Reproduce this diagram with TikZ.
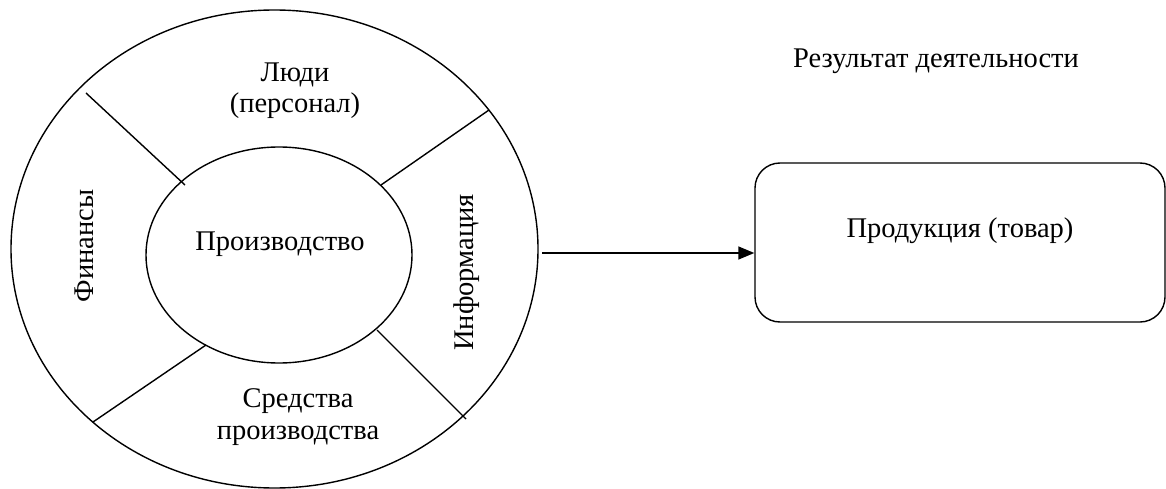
\documentclass[tikz,border=0pt]{standalone}
\usepackage{fontspec}
\setmainfont{Liberation Serif}
\usetikzlibrary{shapes.geometric,arrows.meta}
\begin{document}
\begin{tikzpicture}[x=1pt,y=-1pt,line width=1.4pt,
  lbl/.style={font=\fontsize{28.5}{31.5}\selectfont,align=center,inner sep=0pt,anchor=base},
  ring/.style={draw,ellipse,inner sep=0pt}]
\useasboundingbox (0,0) rectangle (1166,489);
% outer ring and inner core
\node[ring,minimum width=527pt,minimum height=478pt] (outer) at (274.5,249) {};
\node[ring,minimum width=266pt,minimum height=216pt] (inner) at (279,255) {};
% dividing spokes
\draw (86,93) -- (185,185);
\draw (489,110) -- (381,185);
\draw (93,422) -- (206,345);
\draw (377,330) -- (466,419);
% sector labels (two-line labels sit on the baseline of their last line)
\node[lbl] (core) at (280,250) {Производство};
\node[lbl] (people) at (295,113) {Люди\\(персонал)};
\node[lbl] (means) at (298,439) {Средства\\производства};
\node[lbl,rotate=90] (fin) at (93.5,246) {Финансы};
\node[lbl,rotate=90] (info) at (473,272.5) {Информация};
% result
\node[lbl] (res) at (936,68) {Результат деятельности};
\node[draw,rounded corners=25pt,minimum width=410pt,minimum height=159pt,inner sep=0pt] (box) at (960,242.5) {};
\node[lbl] (prod) at (960,237) {Продукция (товар)};
\coordinate (start) at (542,253);
\draw[-{Triangle[length=16pt,width=13pt]}] (start) -- (start -| box.west);
\end{tikzpicture}
\end{document}
